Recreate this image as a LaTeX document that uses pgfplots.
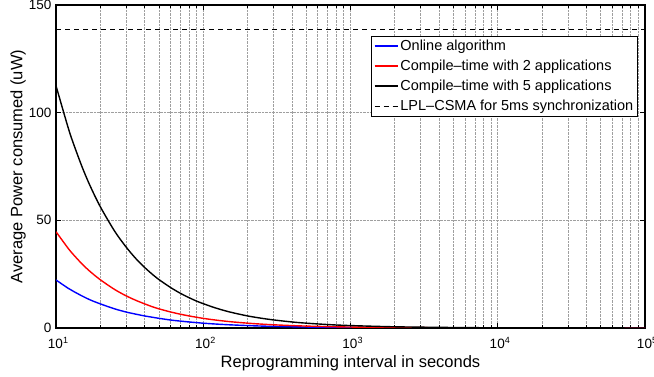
\documentclass[border=0pt]{standalone}
\usepackage{fontspec}
\setmainfont{Liberation Sans}
\usepackage{pgfplots}
\pgfplotsset{compat=1.18}
\begin{document}
\begin{tikzpicture}
\begin{axis}[
  name=ax,
  scale only axis,
  width=589pt, height=323pt,
  xmode=log,
  xmin=10, xmax=100000,
  ymin=0, ymax=150,
  ytick={0,50,100,150},
  xtick={10,100,1000,10000,100000},
  xticklabels={10\raisebox{0.75ex}{\fontsize{9}{10}\selectfont 1},10\raisebox{0.75ex}{\fontsize{9}{10}\selectfont 2},10\raisebox{0.75ex}{\fontsize{9}{10}\selectfont 3},10\raisebox{0.75ex}{\fontsize{9}{10}\selectfont 4},10\raisebox{0.75ex}{\fontsize{9}{10}\selectfont 5}},
  /pgf/number format/assume math mode=true,
  tick label style={font=\fontsize{13.5}{15}\selectfont},
  xticklabel style={anchor=center, yshift=-15pt, xshift=2pt},
  yticklabel style={xshift=-1pt},
  label style={font=\fontsize{16.5}{18}\selectfont},
  xlabel={Reprogramming interval in seconds},
  ylabel={Average Power consumed (uW)},
  xlabel style={at={(rel axis cs:0.5,0)}, anchor=center, yshift=-35pt},
  ylabel style={at={(rel axis cs:0,0.5)}, anchor=center, yshift=38pt},
  grid=both,
  major grid style={densely dotted, gray!75, line width=0.7pt},
  minor grid style={densely dotted, gray!75, line width=0.7pt},
  minor y tick num=0,
  tick align=inside,
  major tick length=5pt, minor tick length=3pt,
  axis line style={line width=1.4pt},
  every tick/.style={black, line width=0.7pt},
  legend style={at={(rel axis cs:0.988,0.905)}, anchor=north east, font=\fontsize{14.5}{17}\selectfont, inner sep=2pt, row sep=4pt, cells={anchor=west}},
  every axis legend/.append style={line width=1.2pt},
  legend cell align=left,
  legend image code/.code={\draw[#1, line width=1.6pt] (0pt,0pt) -- (23pt,0pt);},
]
\addplot[blue, line width=1.4pt, smooth] coordinates {
(10,22.3) (12,18.6) (13,17.2) (15,14.9) (17,13.1) (20,11.2) (25,8.9) (30,7.4) (35,6.4) (40,5.6) (45,5.0) (50,4.5) (60,3.7) (70,3.2) (80,2.8) (90,2.5) (100,2.23) (120,1.86) (150,1.49) (200,1.12) (250,0.89) (300,0.74) (400,0.56) (500,0.45) (700,0.32) (1000,0.22) (2000,0.11) (5000,0.045) (10000,0.022) (100000,0.002)};
\addlegendentry{Online algorithm}
\addplot[red, line width=1.4pt, smooth] coordinates {
(10,44.7) (12,37.3) (13,34.4) (15,29.8) (17,26.3) (20,22.4) (25,17.9) (30,14.9) (35,12.8) (40,11.2) (45,9.9) (50,8.9) (60,7.45) (70,6.4) (80,5.6) (90,5.0) (100,4.47) (120,3.73) (150,2.98) (200,2.24) (250,1.79) (300,1.49) (400,1.12) (500,0.89) (700,0.64) (1000,0.45) (2000,0.22) (5000,0.09) (10000,0.045) (100000,0.0045)};
\addlegendentry{Compile--time with 2 applications}
\addplot[black, line width=1.4pt, smooth] coordinates {
(10,112.5) (12,93.8) (13,86.5) (15,75.0) (17,66.2) (20,56.3) (25,45.0) (30,37.5) (35,32.1) (40,28.1) (45,25.0) (50,22.5) (60,18.8) (70,16.1) (80,14.1) (90,12.5) (100,11.3) (120,9.4) (150,7.5) (200,5.6) (250,4.5) (300,3.75) (400,2.8) (500,2.25) (700,1.6) (1000,1.13) (2000,0.56) (5000,0.23) (10000,0.11) (100000,0.01)};
\addlegendentry{Compile--time with 5 applications}
\addplot[black, line width=1.4pt, dash pattern=on 5pt off 4pt] coordinates {(10,138.5) (100000,138.5)};
\addlegendentry{LPL--CSMA for 5ms synchronization}
\end{axis}
\pgfresetboundingbox
\path (ax.south west) ++(-56pt,-49pt) rectangle ++(654pt,377pt);
\end{tikzpicture}
\end{document}
